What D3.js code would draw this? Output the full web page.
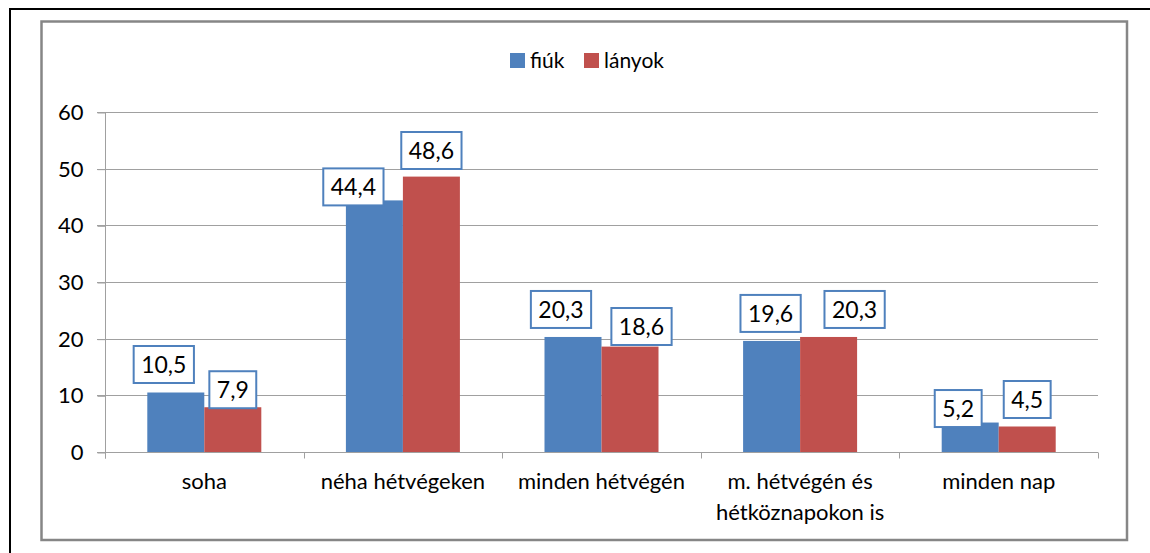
<!DOCTYPE html>
<html>
<head>
<meta charset="utf-8">
<script src="https://cdn.jsdelivr.net/npm/d3@7"></script>
<style>
  body { margin: 0; background: #fff; }
  text { font-family: Lato, "Open Sans", sans-serif; fill: #000; }
</style>
</head>
<body>
<div id="chart"></div>
<script>
const categories = ["soha", "néha hétvégeken", "minden hétvégén", "m. hétvégén és|hétköznapokon is", "minden nap"];
const seriesNames = ["fiúk", "lányok"];
const fiuk = [10.5, 44.4, 20.3, 19.6, 5.2];
const lanyok = [7.9, 48.6, 18.6, 20.3, 4.5];
const yTicks = [0, 10, 20, 30, 40, 50, 60];

const colors = ["#4F81BD", "#C0504D"];
// hand-moved label boxes in the original: [dx from bar centre, dy of box bottom from bar top]
const labelNudge = [
    [[-12, -9.5], [0, 1]],
    [[-21, 5], [0, -7.6]],
    [[-12, -9], [11.5, -1.6]],
    [[-1, -9], [26, -9]],
    [[-12, 4.5], [0, -8.5]]
];

const width = 1150, height = 553;
const svg = d3.select("#chart").append("svg")
    .attr("width", width)
    .attr("height", height);

// frames
svg.append("path")
    .attr("d", "M10,553V9H1150")
    .attr("fill", "none")
    .attr("stroke", "#000")
    .attr("stroke-width", 2);
svg.append("rect")
    .attr("x", 41.5).attr("y", 21.5)
    .attr("width", 1085.5).attr("height", 518.5)
    .attr("fill", "none")
    .attr("stroke", "#868686")
    .attr("stroke-width", 2.5);

const x0 = d3.scaleBand().domain(categories).range([105, 1098]);
const x1 = d3.scaleBand().domain(seriesNames).range([0, x0.bandwidth()]).paddingOuter(0.742);
const y = d3.scaleLinear().domain([0, 60]).range([452, 112]);

// gridlines
svg.append("g")
    .selectAll("line")
    .data(yTicks)
    .join("line")
    .attr("x1", 97).attr("x2", 1098)
    .attr("y1", d => Math.round(y(d)) + 0.5)
    .attr("y2", d => Math.round(y(d)) + 0.5)
    .attr("stroke", "#A0A0A0");

// y axis
const yAxis = svg.append("g")
    .attr("transform", "translate(105.5,0.5)")
    .call(d3.axisLeft(y).tickValues(yTicks).tickSize(8).tickSizeOuter(0).tickPadding(14));
yAxis.select(".domain").attr("stroke", "#A0A0A0").attr("d", "M0," + y(60) + "V458");
yAxis.selectAll(".tick line").attr("stroke", "#A0A0A0");
yAxis.selectAll(".tick text").attr("font-size", 22).attr("fill", "#000");

// bars
const rows = categories.map((c, i) => ({ cat: c, i, vals: [fiuk[i], lanyok[i]] }));
const groups = svg.append("g")
    .selectAll("g")
    .data(rows)
    .join("g")
    .attr("transform", d => `translate(${x0(d.cat)},0)`);

groups.selectAll("rect")
    .data(d => d.vals.map((v, k) => ({ v, k, name: seriesNames[k] })))
    .join("rect")
    .attr("x", d => x1(d.name))
    .attr("width", x1.bandwidth())
    .attr("y", d => y(d.v))
    .attr("height", d => y(0) - y(d.v))
    .attr("fill", d => colors[d.k]);

// x axis
const xAxis = svg.append("g").attr("transform", "translate(0,452.5)");
xAxis.append("line")
    .attr("x1", 105).attr("x2", 1098)
    .attr("stroke", "#A0A0A0");
xAxis.selectAll(".tk")
    .data(categories.map(c => x0(c)).concat([1098]))
    .join("line")
    .attr("class", "tk")
    .attr("x1", d => Math.round(d) + 0.5).attr("x2", d => Math.round(d) + 0.5)
    .attr("y1", 0).attr("y2", 6)
    .attr("stroke", "#A0A0A0");
xAxis.selectAll(".lbl")
    .data(categories)
    .join("text")
    .attr("class", "lbl")
    .attr("text-anchor", "middle")
    .attr("font-size", 22)
    .attr("x", d => x0(d) + x0.bandwidth() / 2)
    .selectAll("tspan")
    .data(d => d.split("|"))
    .join("tspan")
    .attr("x", function () { return this.parentNode.getAttribute("x"); })
    .attr("y", (d, i) => 36 + i * 31)
    .text(d => d);

// data labels
groups.each(function (row) {
    const g = d3.select(this);
    row.vals.forEach((v, k) => {
        const [dx, dy] = labelNudge[row.i][k];
        const cx = x1(seriesNames[k]) + x1.bandwidth() / 2 + dx;
        const bottom = y(v) + dy;
        const lab = g.append("g");
        const t = lab.append("text")
            .attr("text-anchor", "middle")
            .attr("font-size", 23)
            .attr("x", cx)
            .attr("y", bottom - 10)
            .text(String(v).replace(".", ","));
        const w = t.node().getComputedTextLength() + 15;
        lab.insert("rect", "text")
            .attr("x", cx - w / 2)
            .attr("y", bottom - 37)
            .attr("width", w)
            .attr("height", 37)
            .attr("fill", "#fff")
            .attr("stroke", "#4F81BD")
            .attr("stroke-width", 2);
    });
});

// legend
const legend = svg.append("g");
const legX = [510, 584];
seriesNames.forEach((s, k) => {
    legend.append("rect")
        .attr("x", legX[k]).attr("y", 53)
        .attr("width", 15).attr("height", 15)
        .attr("fill", colors[k]);
    legend.append("text")
        .attr("x", legX[k] + 20).attr("y", 68)
        .attr("font-size", 21)
        .text(s);
});
</script>
</body>
</html>
